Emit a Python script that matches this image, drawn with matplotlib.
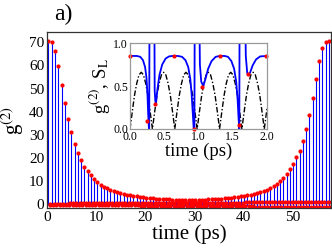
import numpy as np
import matplotlib
matplotlib.use("Agg")
import matplotlib.pyplot as plt

plt.rcParams['font.family'] = ['Liberation Serif', 'DejaVu Serif']
plt.rcParams['mathtext.fontset'] = 'stix'

# main panel: g2 peak values sampled once per period
t0 = 0.3
period = 0.663
g2_peak = [70.7, 70.0, 66.4, 59.9, 51.6, 43.7, 36.9,
           31.2, 26.1, 22.1, 19.2, 16.3, 14.4, 12.7, 11.0, 9.5, 8.4, 7.6,
           6.9, 6.2, 5.7, 5.2, 4.8, 4.4, 4.0, 3.8, 3.6, 3.4, 3.2, 3.05, 2.9,
           2.75, 2.6, 2.5, 2.4, 2.3, 2.2, 2.1, 2.0, 1.95, 1.9, 1.85, 1.8, 1.8,
           1.8, 1.85, 1.9, 1.95, 2.0, 2.1, 2.2, 2.3, 2.4, 2.5, 2.6, 2.75, 2.9,
           3.05, 3.2, 3.4, 3.6, 3.8, 4.0, 4.3, 4.8, 5.2, 5.8, 6.2, 6.9, 7.9,
           8.9, 10.1, 11.5, 13.2, 15.2, 17.3, 20.3, 23.2, 27.5,
           32.6, 38.6, 45.9, 54.2, 62.0, 67.7, 70.2, 70.7]
# samples near the dips (two per period)
low_a = [-0.20, -0.21, -0.22, -0.24, -0.25, -0.26, -0.27, -0.28, -0.30, -0.31,
         -0.32, -0.33, -0.34, -0.36, -0.37, -0.38, -0.39, -0.40, -0.42, -0.43,
         -0.44, -0.45, -0.46, -0.48, -0.49, -0.50, -0.51, -0.52, -0.54, -0.55,
         -0.56, -0.57, -0.58, -0.60, -0.61, -0.62, -0.63, -0.64, -0.66, -0.67,
         -0.68, -0.69, -0.70, -0.72, -0.73, -0.74, -0.75, -0.76, -0.78, -0.79,
         -0.80, -0.81, -0.82, -0.84, -0.85, -0.86, -0.87, -0.88, -0.90, -0.91,
         -0.92, -0.93, -0.94, -0.96, -0.97, -0.98, -0.99, -1.00, -1.02, -1.03,
         -1.04, -1.05, -1.06, -1.08, -1.09, -1.10, -1.11, -1.12, -1.14, -1.15,
         -1.16, -1.17, -1.18, -1.20, -1.21, -1.22, -1.23]
low_b = [0.30, 0.31, 0.32, 0.32, 0.33, 0.34, 0.35, 0.36, 0.36, 0.37,
         0.38, 0.39, 0.40, 0.40, 0.41, 0.42, 0.43, 0.44, 0.44, 0.45,
         0.46, 0.47, 0.48, 0.48, 0.49, 0.50, 0.51, 0.52, 0.52, 0.53,
         0.54, 0.55, 0.56, 0.56, 0.57, 0.58, 0.59, 0.60, 0.60, 0.61,
         0.62, 0.63, 0.64, 0.64, 0.65, 0.66, 0.67, 0.68, 0.68, 0.69,
         0.70, 0.71, 0.72, 0.72, 0.73, 0.74, 0.75, 0.76, 0.76, 0.77,
         0.78, 0.79, 0.80, 0.80, 0.81, 0.82, 0.83, 0.84, 0.84, 0.85,
         0.86, 0.87, 0.88, 0.88, 0.89, 0.90, 0.91, 0.92, 0.92, 0.93,
         0.94, 0.95, 0.96, 0.96, 0.97, 0.98, 0.99]
dip_shift_a = 0.26
dip_shift_b = 0.37

# inset: g2(t) and S_L(t) over the first 2 ps
g2_t = [0.0, 0.10, 0.15, 0.19, 0.22, 0.24, 0.255, 0.265, 0.275, 0.28, 0.285,
        0.355, 0.36, 0.37, 0.38, 0.40, 0.43, 0.47, 0.52, 0.57, 0.62, 0.70,
        0.76, 0.81, 0.85, 0.88, 0.90, 0.915, 0.93, 0.94, 0.945,
        1.01, 1.02, 1.04, 1.07, 1.10, 1.14, 1.19, 1.25, 1.31, 1.38, 1.43,
        1.48, 1.52, 1.55, 1.57, 1.585, 1.595, 1.60,
        1.68, 1.69, 1.71, 1.72, 1.75, 1.79, 1.84, 1.90, 2.0]
g2_v = [0.85, 0.85, 0.84, 0.80, 0.72, 0.60, 0.40, 0.18, 0.02, 0.0, 1.5,
        1.5, 0.45, 0.32, 0.30, 0.46, 0.63, 0.75, 0.82, 0.845, 0.85, 0.85,
        0.84, 0.80, 0.72, 0.58, 0.40, 0.20, 0.0, 0.0, 1.5,
        1.5, 0.75, 0.55, 0.50, 0.58, 0.70, 0.79, 0.84, 0.85, 0.85, 0.84,
        0.79, 0.70, 0.55, 0.35, 0.12, 0.0, 1.5,
        1.5, 0.85, 0.66, 0.63, 0.65, 0.74, 0.81, 0.845, 0.85]
g2_dot_t = [0.0, 0.25, 0.365, 0.645, 0.927, 1.054, 1.31, 1.59, 1.723, 1.98]
g2_dot_v = [0.85, 0.09, 0.29, 0.85, 0.0, 0.485, 0.85, 0.05, 0.635, 0.85]

sl_t = [0.000, 0.033, 0.065, 0.098, 0.131, 0.164, 0.196, 0.229, 0.262, 0.294,
        0.327, 0.360, 0.392, 0.425, 0.458, 0.491, 0.523, 0.556, 0.589, 0.621,
        0.653, 0.686, 0.719, 0.752, 0.784, 0.817, 0.850, 0.882, 0.915, 0.948,
        0.980, 1.013, 1.046, 1.078, 1.111, 1.144, 1.176, 1.209, 1.242, 1.275,
        1.307, 1.340, 1.373, 1.405, 1.438, 1.471, 1.503, 1.536, 1.569, 1.601,
        1.633, 1.666, 1.699, 1.731, 1.764, 1.797, 1.829, 1.862, 1.895, 1.927,
        1.960, 1.993, 2.000]
sl_v = [0.00, 0.20, 0.39, 0.53, 0.63, 0.66, 0.63, 0.53, 0.39, 0.20,
        0.00, 0.20, 0.39, 0.53, 0.63, 0.66, 0.63, 0.53, 0.39, 0.20,
        0.00, 0.20, 0.39, 0.53, 0.63, 0.66, 0.63, 0.53, 0.39, 0.20,
        0.00, 0.20, 0.39, 0.53, 0.63, 0.66, 0.63, 0.53, 0.39, 0.20,
        0.00, 0.20, 0.39, 0.53, 0.63, 0.66, 0.63, 0.53, 0.39, 0.20,
        0.00, 0.20, 0.39, 0.53, 0.63, 0.66, 0.63, 0.53, 0.39, 0.20,
        0.00, 0.20, 0.24]

blue = '#0000ff'
red = '#ff0000'

t = t0 + period * np.arange(len(g2_peak))

fig = plt.figure(figsize=(3.32, 2.49), dpi=100)
ax = fig.add_axes([0.1416, 0.1647, 0.855, 0.707])
ax.vlines(t, low_a, g2_peak, colors=blue, lw=0.8)
ax.plot(t + dip_shift_a, low_a, 'o', color=red, ms=3.0, mec='none')
ax.plot(t + dip_shift_b, low_b, 'o', color=red, ms=3.0, mec='none')
ax.plot(t, g2_peak, 'o', color=red, ms=3.0, mec='none')
ax.set_xlim(0, 57.7)
ax.set_ylim(-1.6, 74.5)
ax.set_xticks([0, 10, 20, 30, 40, 50])
ax.set_yticks([0, 10, 20, 30, 40, 50, 60, 70])
ax.tick_params(labelsize=11, length=0, pad=2)
ax.set_xlabel('time (ps)', fontsize=15, labelpad=0)
ax.set_ylabel(r'g$^{(2)}$', fontsize=15, labelpad=2)
for s in ax.spines.values():
    s.set_color('#333333')
    s.set_linewidth(0.9)

fig.text(0.19, 0.94, 'a)', fontsize=17, ha='center', va='center')

# inset
ins = fig.add_axes([0.3916, 0.482, 0.4127, 0.345])
ins.plot(sl_t, sl_v, color='black', lw=1.0, ls=(0, (4, 1.5, 1, 1.5)))
ins.plot(g2_t, g2_v, color=blue, lw=1.3)
ins.plot(g2_dot_t, g2_dot_v, 'o', color=red, ms=3, mec='none', clip_on=False)
ins.set_xlim(0, 2.0)
ins.set_ylim(0, 1.0)
ins.set_xticks([0.0, 0.5, 1.0, 1.5, 2.0])
ins.set_yticks([0.0, 0.5, 1.0])
ins.tick_params(labelsize=8.5, length=0, pad=1.5)
ins.set_xlabel('time (ps)', fontsize=13.5, labelpad=0)
ins.set_ylabel(r'g$^{(2)}$, S$_{\rm L}$', fontsize=13.5, labelpad=1)
for s in ins.spines.values():
    s.set_color('#999999')
    s.set_linewidth(0.9)

fig.savefig('out.png', dpi=100)
